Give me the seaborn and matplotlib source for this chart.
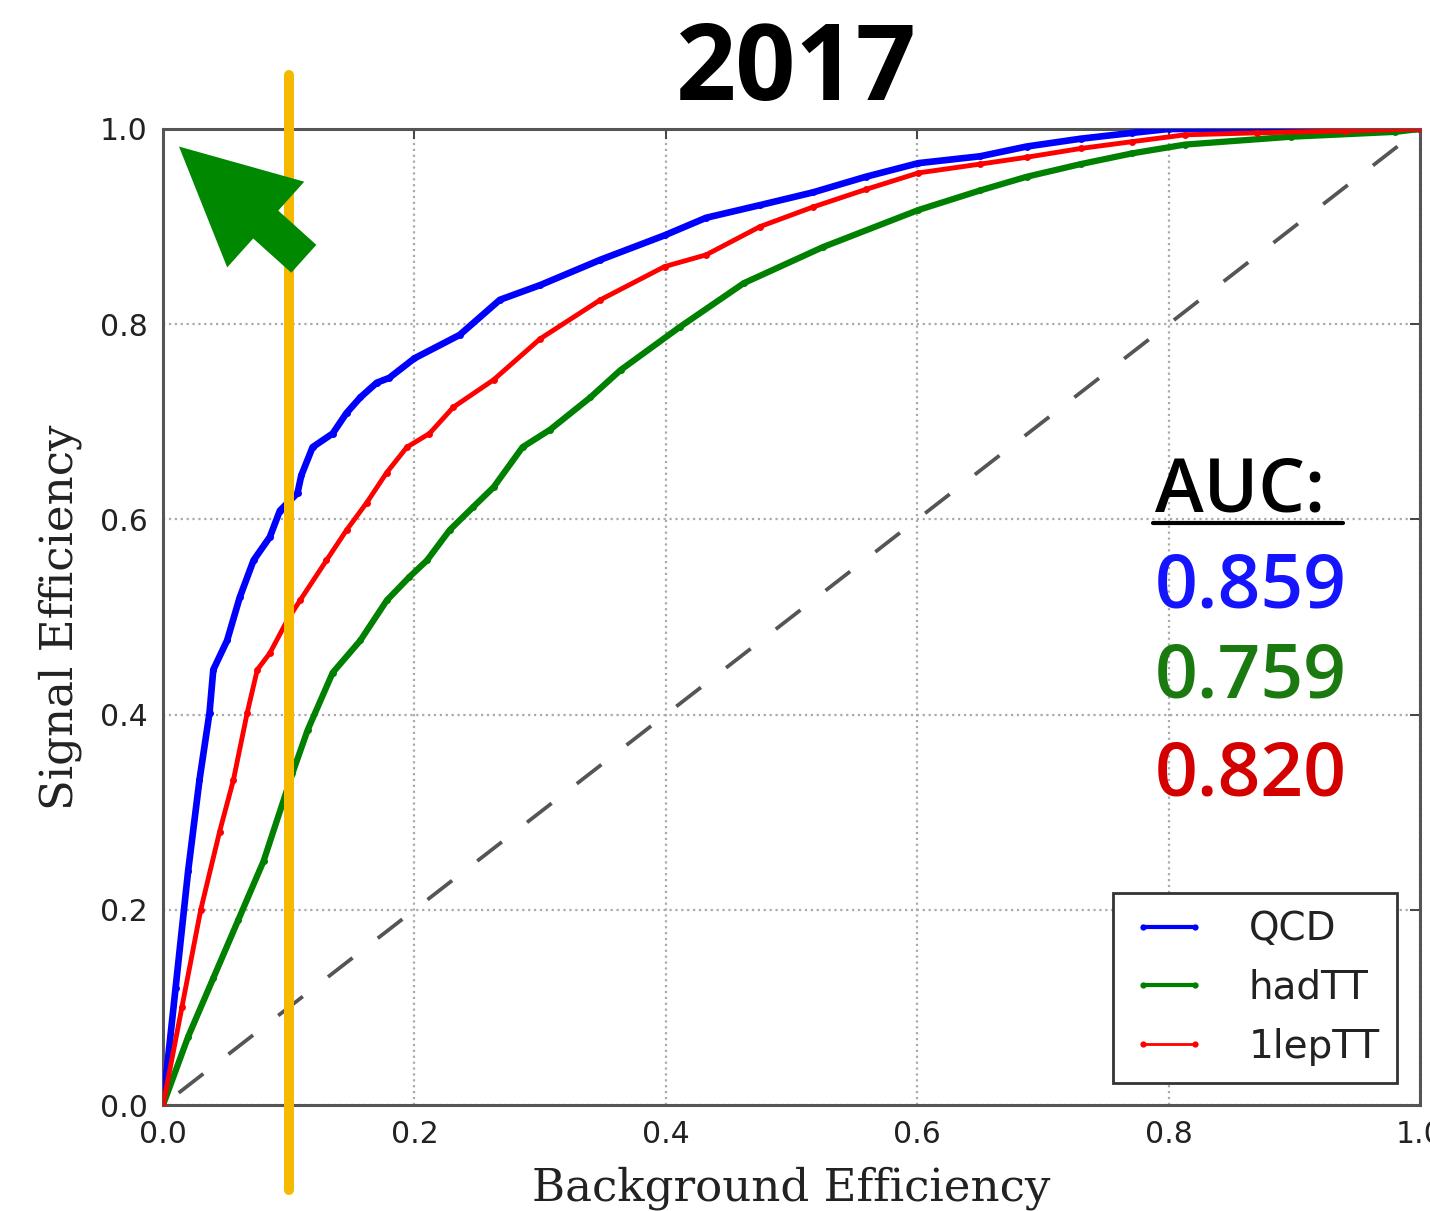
import matplotlib
matplotlib.use("Agg")
import matplotlib.pyplot as plt
import pandas as pd
import seaborn as sns
from matplotlib.lines import Line2D

# ROC curves (background efficiency vs signal efficiency) for each background sample
qcd_fpr = [0.0, 0.01, 0.02, 0.029, 0.037, 0.040, 0.051, 0.061, 0.072, 0.085, 0.093, 0.107,
           0.110, 0.119, 0.135, 0.146, 0.157, 0.170, 0.18, 0.20, 0.236, 0.268, 0.30, 0.348,
           0.399, 0.432, 0.475, 0.517, 0.559, 0.601, 0.65, 0.687, 0.73, 0.771, 0.80, 0.85,
           0.9, 0.95, 1.0]
qcd_tpr = [0.0, 0.12, 0.24, 0.333, 0.402, 0.446, 0.476, 0.52, 0.558, 0.582, 0.609, 0.627,
           0.645, 0.674, 0.688, 0.709, 0.725, 0.740, 0.745, 0.765, 0.789, 0.825, 0.84, 0.866,
           0.891, 0.909, 0.922, 0.935, 0.951, 0.965, 0.972, 0.982, 0.99, 0.996, 1.0, 1.0,
           1.0, 1.0, 1.0]

had_fpr = [0.0, 0.02, 0.04, 0.06, 0.08, 0.103, 0.115, 0.135, 0.157, 0.178, 0.196, 0.210,
           0.228, 0.247, 0.263, 0.286, 0.308, 0.34, 0.364, 0.411, 0.462, 0.525, 0.601, 0.65,
           0.687, 0.73, 0.771, 0.813, 0.897, 0.98, 1.0]
had_tpr = [0.0, 0.07, 0.13, 0.19, 0.25, 0.34, 0.384, 0.443, 0.476, 0.517, 0.541, 0.558,
           0.589, 0.613, 0.633, 0.674, 0.692, 0.725, 0.753, 0.797, 0.842, 0.879, 0.917, 0.937,
           0.951, 0.964, 0.975, 0.984, 0.992, 0.997, 1.0]

lep_fpr = [0.0, 0.015, 0.03, 0.045, 0.056, 0.067, 0.075, 0.085, 0.099, 0.109, 0.130, 0.146,
           0.162, 0.178, 0.194, 0.212, 0.231, 0.263, 0.30, 0.348, 0.399, 0.432, 0.475, 0.517,
           0.559, 0.601, 0.65, 0.687, 0.73, 0.771, 0.813, 0.87, 0.94, 1.0]
lep_tpr = [0.0, 0.10, 0.20, 0.28, 0.333, 0.402, 0.446, 0.463, 0.497, 0.517, 0.558, 0.589,
           0.617, 0.648, 0.674, 0.688, 0.715, 0.743, 0.785, 0.825, 0.859, 0.871, 0.90, 0.92,
           0.938, 0.955, 0.964, 0.971, 0.98, 0.987, 0.994, 0.996, 0.998, 1.0]

samples = ["QCD", "hadTT", "1lepTT"]
auc_values = ["0.859", "0.759", "0.820"]
line_colors = ["#0000ff", "#008000", "#ff0000"]
text_colors = ["#1414ff", "#1a7a10", "#d40000"]
line_widths = [4.8, 4.5, 3.5]

working_point = 0.1          # background efficiency of the chosen cut
diagonal = [0.0, 1.0]        # random-guess reference line
x_ticks = [0.0, 0.2, 0.4, 0.6, 0.8, 1.0]
y_ticks = [0.0, 0.2, 0.4, 0.6, 0.8, 1.0]

curves = [(qcd_fpr, qcd_tpr), (had_fpr, had_tpr), (lep_fpr, lep_tpr)]

sns.set_theme(style="white")
plt.rcParams["font.family"] = ["DejaVu Sans"]

fig = plt.figure(figsize=(14.3, 12.11), dpi=100)
ax = fig.add_axes([0.1140, 0.0875, 0.8790, 0.8060])

# random classifier diagonal
ax.plot(diagonal, diagonal, color="#555555", lw=2.7,
        linestyle=(11.5, (8.3, 8.5)), dash_capstyle="butt", zorder=2)

for (fpr, tpr), name, col, lw in zip(curves, samples, line_colors, line_widths):
    df = pd.DataFrame({"bkg_eff": fpr, "sig_eff": tpr})
    sns.lineplot(data=df, x="bkg_eff", y="sig_eff", ax=ax, color=col, lw=lw,
                 marker=".", markersize=10, markeredgewidth=0, markeredgecolor=col,
                 sort=False, estimator=None, label=name, zorder=3)

ax.set_xlim(0, 1)
ax.set_ylim(0, 1)
ax.set_xticks(x_ticks)
ax.set_yticks(y_ticks)
ax.set_xticklabels([f"{t:.1f}" for t in x_ticks])
ax.set_yticklabels([f"{t:.1f}" for t in y_ticks])
ax.tick_params(direction="in", length=7, width=1.4, color="#444444",
               top=True, right=True, labelsize=21.5, pad=11, labelcolor="#222222")
for sp in ax.spines.values():
    sp.set_color("#555555")
    sp.set_linewidth(2.2)
ax.grid(True, linestyle=":", color="#aaaaaa", lw=1.6)
ax.set_axisbelow(True)

ax.set_xlabel("Background Efficiency", family="DejaVu Serif", fontsize=32.5,
              color="#222222", va="center")
ax.set_ylabel("Signal Efficiency", family="DejaVu Serif", fontsize=32.5,
              color="#222222", va="center")
ax.xaxis.set_label_coords(0.5, -0.085)
ax.yaxis.set_label_coords(-0.082, 0.5)

# chosen working point
ax.axvline(working_point, ymin=-0.087, ymax=1.055, clip_on=False,
           color="#f5b900", lw=7.2, zorder=5)

# arrow pointing toward the ideal corner
ax.annotate("", xy=(0.0127, 0.982), xytext=(0.112, 0.867),
            arrowprops=dict(arrowstyle="simple,head_length=84,head_width=83,tail_width=27",
                            mutation_scale=1, color="#008800", lw=0,
                            shrinkA=0, shrinkB=0),
            zorder=6)

leg = ax.legend(loc="lower right", bbox_to_anchor=(0.982, 0.0225), borderaxespad=0,
                numpoints=2, fontsize=28, handlelength=1.95, handletextpad=1.08,
                borderpad=0.45, labelspacing=0.53, fancybox=False, framealpha=1,
                edgecolor="#333333")
leg.get_frame().set_linewidth(2)
for ln, w in zip(leg.get_lines(), [3.0, 3.0, 2.0]):
    ln.set_linewidth(w)
    ln.set_markersize(9)
for t in leg.get_texts():
    t.set_color("#222222")
leg.set_zorder(7)

# title
fig.text(796 / 1430, 1 - 100 / 1211, "2017", family="Open Sans", weight="bold",
         fontsize=76, ha="center", va="baseline", color="black")

# AUC summary
auc_x = 1155 / 1430
fig.text(auc_x, 1 - 512 / 1211, "AUC:", family="Open Sans", weight="semibold",
         fontsize=53, ha="left", va="baseline", color="black")
fig.add_artist(Line2D([1153 / 1430, 1343 / 1430], [1 - 523 / 1211] * 2,
                      color="black", lw=3, transform=fig.transFigure))
for val, col, base in zip(auc_values, text_colors, [607, 698, 795]):
    fig.text(auc_x, 1 - base / 1211, val, family="Open Sans", weight="semibold",
             fontsize=54, ha="left", va="baseline", color=col)

fig.savefig("out.png", dpi=100, facecolor="white")
